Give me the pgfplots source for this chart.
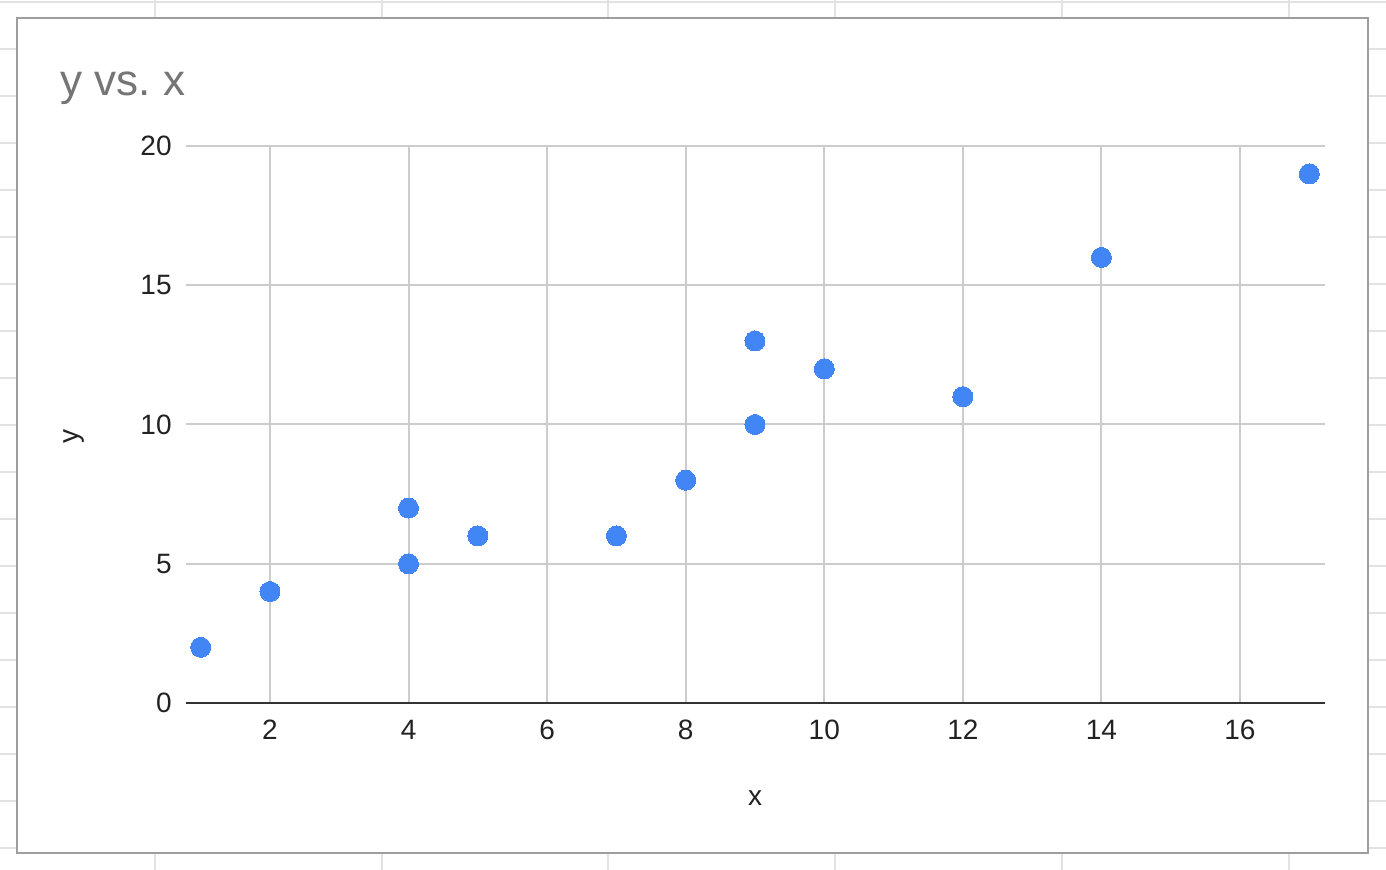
\documentclass[border=0pt]{standalone}
\usepackage{pgfplots}
\pgfplotsset{compat=1.18}
\usepackage{fontspec}
\setmainfont{Liberation Sans}
\definecolor{gsblue}{HTML}{4285F4}
\definecolor{gsgrid}{HTML}{CCCCCC}
\definecolor{gsaxis}{HTML}{333333}
\definecolor{gstitle}{HTML}{757575}
\definecolor{gsborder}{HTML}{9E9E9E}
\definecolor{sheetgrid}{HTML}{E2E2E2}
\definecolor{gstext}{HTML}{222222}
\begin{document}
\begin{tikzpicture}[x=0.5pt,y=0.5pt]
\path[use as bounding box] (0,0) rectangle (1386,870);
% spreadsheet cell lines behind the chart (y measured from the bottom)
\foreach \yy in {21.5,68.5,...,870} {\draw[sheetgrid,line width=1pt] (0,\yy) -- (1386,\yy);}
\foreach \xx in {155,382,608,835,1062,1289} {\draw[sheetgrid,line width=1pt] (\xx,0) -- (\xx,870);}
% chart card
\filldraw[fill=white,draw=gsborder,line width=0.8pt] (17,17) rectangle (1368,852);
\node[anchor=base west,inner sep=0pt,text=gstitle,font=\fontsize{22}{26}\selectfont] at (60,774) {y vs.\ x};
\node[rotate=90,inner sep=0pt,text=gstext,font=\fontsize{14}{16}\selectfont] at (74,433) {y};
\node[anchor=base,inner sep=0pt,text=gstext,font=\fontsize{14}{16}\selectfont] at (755,64) {x};
\begin{axis}[
  at={(93pt,83.5pt)}, anchor=south west,
  scale only axis, width=569.5pt, height=278.5pt,
  xmin=0.788, xmax=17.227, ymin=0, ymax=20,
  xtick={2,4,...,16}, ytick={0,5,...,20},
  grid=major,
  major grid style={gsgrid,line width=1pt},
  axis x line*=bottom, axis y line*=left,
  x axis line style={gsaxis,line width=1pt,-},
  y axis line style={draw=none},
  major tick length=0pt,
  tick style={draw=none},
  /pgf/number format/assume math mode=true,
  ticklabel style={font=\fontsize{14}{16}\selectfont, text=gstext, inner sep=0pt},
  yticklabel style={anchor=east, xshift=-7pt},
  xticklabel style={anchor=north, yshift=-8.2pt},
  clip=false,
]
\addplot[only marks, color=gsblue, mark=*, mark size=5pt, mark options={draw=gsblue, fill=gsblue, line width=0pt}]
coordinates {
(1,2) (2,4) (4,5) (4,7) (5,6) (7,6) (8,8) (9,10) (9,13) (10,12) (12,11) (14,16) (17,19)
};
\end{axis}
\end{tikzpicture}
\end{document}
